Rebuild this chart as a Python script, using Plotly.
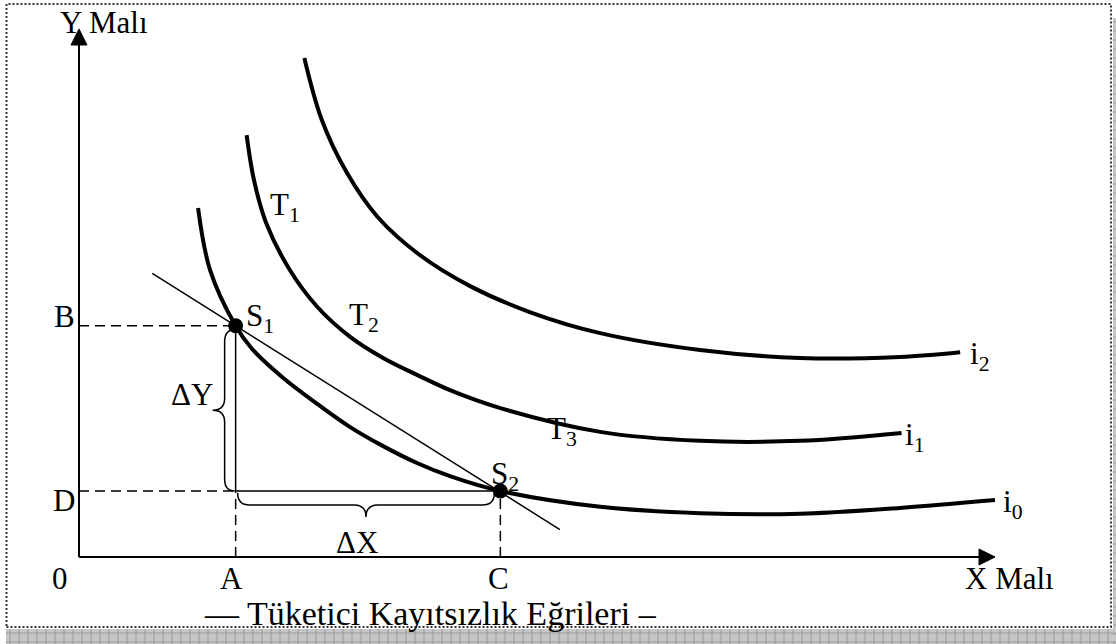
import plotly.graph_objects as go

# Canvas and axes frame (pixels)
W, H = 1116, 644
X0, Y0 = 79, 557          # pixel position of the origin
KX, KY = 9.16, 5.28       # pixels per data unit along x and y

def dx(px):
    return (px - X0) / KX

def dy(py):
    return (Y0 - py) / KY

# Axis extent (data units)
AXIS_MAX = 100

# Two consumption bundles on the lowest curve
A, C = 17.1, 46.0         # quantities of good X
B, D = 43.8, 12.5         # quantities of good Y

# Indifference curves
i0_x = [13.0, 14.3, 17.1, 18.9, 22.3, 26.0, 29.6, 33.2, 36.9, 40.5, 46.0, 56.9, 67.8, 78.7, 89.6, 100.0]
i0_y = [66.1, 54.4, 43.8, 39.4, 33.9, 29.0, 24.6, 21.0, 17.8, 15.3, 12.5, 9.5, 8.3, 8.2, 9.3, 10.8]

i1_x = [18.3, 19.1, 20.4, 23.0, 26.0, 29.6, 33.2, 36.9, 40.5, 46.0, 56.9, 67.8, 78.7, 89.8]
i1_y = [79.9, 71.4, 63.4, 54.4, 47.4, 41.7, 37.7, 34.5, 31.6, 28.2, 23.7, 22.0, 22.0, 23.5]

i2_x = [24.6, 26.5, 29.2, 32.6, 37.2, 42.7, 49.2, 56.9, 67.8, 78.7, 89.6, 96.2]
i2_y = [94.5, 82.8, 72.9, 64.4, 57.2, 51.3, 46.4, 42.4, 39.2, 37.7, 37.9, 38.8]

# Straight line through S1 and S2
line_x = [8.0, 52.5]
line_y = [53.7, 5.2]

SERIF = "Liberation Serif, Times New Roman, serif"
FS = 31
INK = "black"

fig = go.Figure()

# ---- guide lines to the axes ----
dash = "10px,6px"
for xs, ys in [([0, A], [B, B]), ([0, A], [D, D]), ([A, A], [0, D]), ([C, C], [0, D])]:
    fig.add_trace(go.Scatter(x=xs, y=ys, mode="lines",
                             line=dict(color=INK, width=1.5, dash=dash), hoverinfo="skip"))
# solid legs of the triangle S1 - corner - S2
fig.add_trace(go.Scatter(x=[A, A, C], y=[B, D, D], mode="lines",
                         line=dict(color=INK, width=1.5), hoverinfo="skip"))

# ---- budget line ----
fig.add_trace(go.Scatter(x=line_x, y=line_y, mode="lines",
                         line=dict(color=INK, width=1.5), hoverinfo="skip"))

# ---- indifference curves ----
for xs, ys in [(i0_x, i0_y), (i1_x, i1_y), (i2_x, i2_y)]:
    fig.add_trace(go.Scatter(x=xs, y=ys, mode="lines",
                             line=dict(color=INK, width=4, shape="spline", smoothing=1.0),
                             hoverinfo="skip"))

# ---- bundles ----
fig.add_trace(go.Scatter(x=[A, C], y=[B, D], mode="markers",
                         marker=dict(color=INK, size=15), hoverinfo="skip"))

shapes = []

# ---- axes with arrow heads ----
shapes.append(dict(type="line", xref="x", yref="y", x0=0, y0=0, x1=0, y1=AXIS_MAX - 10 / KY,
                   line=dict(color=INK, width=2)))
shapes.append(dict(type="line", xref="x", yref="y", x0=0, y0=0, x1=AXIS_MAX - 10 / KX, y1=0,
                   line=dict(color=INK, width=2)))
hw, hl = 8, 16
shapes.append(dict(type="path", xref="x", yref="y",
                   path=f"M 0,{AXIS_MAX} L {-hw / KX},{AXIS_MAX - hl / KY} L {hw / KX},{AXIS_MAX - hl / KY} Z",
                   fillcolor=INK, line=dict(color=INK, width=1)))
shapes.append(dict(type="path", xref="x", yref="y",
                   path=f"M {AXIS_MAX},0 L {AXIS_MAX - hl / KX},{hw / KY} L {AXIS_MAX - hl / KX},{-hw / KY} Z",
                   fillcolor=INK, line=dict(color=INK, width=1)))

# ---- curly braces ----
# horizontal brace under the D-level segment, from A to C
q = 12
x1, x2 = A + 2 / KX, C - 6 / KX
xm = (x1 + x2) / 2
yt = D - 2 / KY
ym = yt - q / KY
yc = yt - 2 * q / KY
qx = q / KX
shapes.append(dict(type="path", xref="x", yref="y",
                   path=(f"M {x1},{yt} Q {x1},{ym} {x1 + qx},{ym} L {xm - qx},{ym} "
                         f"Q {xm},{ym} {xm},{yc} Q {xm},{ym} {xm + qx},{ym} "
                         f"L {x2 - qx},{ym} Q {x2},{ym} {x2},{yt}"),
                   line=dict(color=INK, width=1.5)))

# vertical brace left of the A-level segment, from B down to D
xa = A - 1 / KX
xb = A - 11 / KX
xc = A - 23 / KX
yT = B - 4 / KY
yB = D
ymid = (yT + yB) / 2
qy = 12 / KY
shapes.append(dict(type="path", xref="x", yref="y",
                   path=(f"M {xa},{yT} Q {xb},{yT} {xb},{yT - qy} L {xb},{ymid + qy} "
                         f"Q {xb},{ymid} {xc},{ymid} Q {xb},{ymid} {xb},{ymid - qy} "
                         f"L {xb},{yB + qy} Q {xb},{yB} {xa},{yB}"),
                   line=dict(color=INK, width=1.5)))

# ---- dotted frame with shaded edge ----
def fx(px):
    return px / W

def fy(py):
    return 1 - py / H

shapes.append(dict(type="rect", xref="paper", yref="paper",
                   x0=fx(6), x1=fx(W), y0=fy(H), y1=fy(629),
                   fillcolor="#c6c6c6", line=dict(width=0), layer="below"))
shapes.append(dict(type="rect", xref="paper", yref="paper",
                   x0=fx(1113), x1=fx(W), y0=fy(H), y1=fy(18),
                   fillcolor="#c6c6c6", line=dict(width=0), layer="below"))
grid = []
for gx in range(10, W, 9):
    grid.append(f"M {fx(gx)},{fy(629)} L {fx(gx)},{fy(H)}")
for gy in range(633, H, 9):
    grid.append(f"M {fx(6)},{fy(gy)} L {fx(W)},{fy(gy)}")
for gy in range(22, H, 9):
    grid.append(f"M {fx(1113)},{fy(gy)} L {fx(W)},{fy(gy)}")
shapes.append(dict(type="path", xref="paper", yref="paper", path=" ".join(grid),
                   line=dict(color="#9a9a9a", width=1), layer="below"))
shapes.append(dict(type="rect", xref="paper", yref="paper",
                   x0=fx(6.5), x1=fx(1111), y0=fy(627), y1=fy(4),
                   line=dict(color="#333333", width=2, dash="2px,2px")))

# ---- text ----
ann = []

def label(text, x, y, xanchor="center", yanchor="middle", xshift=0, yshift=0, size=FS):
    ann.append(dict(text=text, x=x, y=y, xref="x", yref="y",
                    showarrow=False, xanchor=xanchor, yanchor=yanchor,
                    xshift=xshift, yshift=yshift,
                    font=dict(family=SERIF, size=size, color=INK)))

label("Y Malı", dx(58), dy(22), xanchor="left")
label("X Malı", dx(963), dy(578), xanchor="left")
label("0", 0, 0, xshift=-19, yshift=-21)
label("A", A, 0, xshift=-4, yshift=-21)
label("C", C, 0, xshift=-2, yshift=-21)
label("B", 0, B, xshift=-15, yshift=9)
label("D", 0, D, xshift=-15, yshift=-9)
label("S<sub>1</sub>", A, B, xanchor="left", xshift=8, yshift=8)
label("S<sub>2</sub>", C, D, xanchor="left", xshift=-11, yshift=15)
label("T<sub>1</sub>", dx(268), dy(207), xanchor="left")
label("T<sub>2</sub>", dx(347), dy(317), xanchor="left")
label("T<sub>3</sub>", dx(545), dy(431), xanchor="left")
label("i<sub>2</sub>", i2_x[-1], i2_y[-1], xanchor="left", xshift=8, yshift=-4)
label("i<sub>1</sub>", i1_x[-1], i1_y[-1], xanchor="left", xshift=1, yshift=-4)
label("i<sub>0</sub>", i0_x[-1], i0_y[-1], xanchor="left", xshift=6, yshift=-4)
label("ΔY", dx(192), dy(394))
label("ΔX", dx(357), dy(542))
ann.append(dict(text="— Tüketici Kayıtsızlık Eğrileri –", x=fx(202), y=fy(613),
                xref="paper", yref="paper", showarrow=False, xanchor="left", yanchor="middle",
                font=dict(family=SERIF, size=34, color=INK)))

fig.update_layout(
    width=W, height=H,
    margin=dict(l=0, r=0, t=0, b=0),
    paper_bgcolor="white", plot_bgcolor="white",
    showlegend=False,
    xaxis=dict(range=[dx(0), dx(W)], visible=False, fixedrange=True),
    yaxis=dict(range=[dy(H), dy(0)], visible=False, fixedrange=True),
    shapes=shapes, annotations=ann,
)

fig.write_html("out.html")
